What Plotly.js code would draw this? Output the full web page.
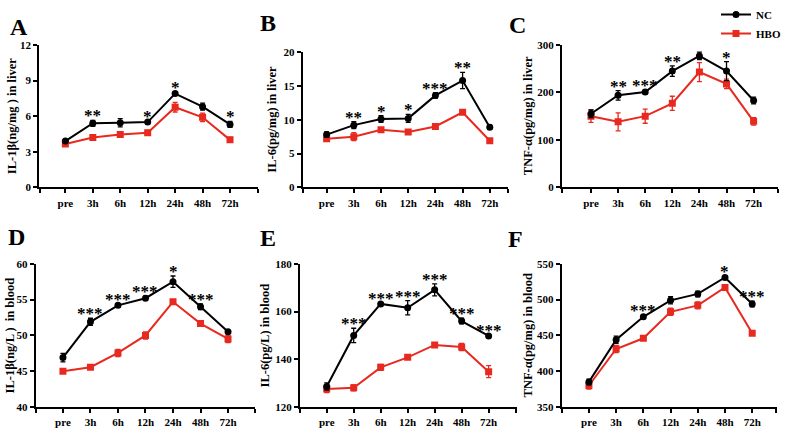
<!DOCTYPE html>
<html>
<head>
<meta charset="utf-8">
<script src="https://cdn.plot.ly/plotly-3.0.1.min.js"></script>
<style>html,body{margin:0;padding:0;background:#fff;}#chart{width:790px;height:431px;}</style>
</head>
<body>
<div id="chart"></div>
<script>
// ---- data ----
var categories = ['pre','3h','6h','12h','24h','48h','72h'];

var ncA = [3.9, 5.4, 5.45, 5.5, 7.9, 6.8, 5.3];
var ncAerr = [0.12, 0.25, 0.35, 0.1, 0.15, 0.3, 0.25];
var hboA = [3.65, 4.2, 4.45, 4.6, 6.75, 5.9, 4.0];
var hboAerr = [0.1, 0.2, 0.2, 0.2, 0.4, 0.35, 0.2];
var starsA = ['', '**', '', '*', '*', '', '*'];

var ncB = [7.8, 9.2, 10.1, 10.2, 13.6, 15.8, 8.9];
var ncBerr = [0.4, 0.5, 0.5, 0.6, 0.4, 1.2, 0.3];
var hboB = [7.2, 7.5, 8.5, 8.2, 9.0, 11.1, 6.9];
var hboBerr = [0.3, 0.6, 0.3, 0.3, 0.2, 0.3, 0.2];
var starsB = ['', '**', '*', '*', '***', '**', ''];

var ncC = [155, 194, 201, 245, 277, 245, 183];
var ncCerr = [8, 10, 4, 11, 8, 20, 7];
var hboC = [150, 138, 150, 177, 243, 218, 139];
var hboCerr = [13, 19, 15, 15, 20, 10, 8];
var starsC = ['', '**', '***', '**', '', '*', ''];

var ncD = [46.9, 51.9, 54.2, 55.2, 57.5, 54.0, 50.5];
var ncDerr = [0.6, 0.5, 0.2, 0.3, 0.8, 0.4, 0.2];
var hboD = [45.0, 45.55, 47.55, 50.0, 54.7, 51.65, 49.5];
var hboDerr = [0.2, 0.2, 0.5, 0.5, 0.3, 0.3, 0.5];
var starsD = ['', '***', '***', '***', '*', '***', ''];

var ncE = [128.6, 150, 163.2, 161.6, 169.1, 156, 149.8];
var ncEerr = [1.5, 3, 0.5, 3, 2.5, 1.2, 0.5];
var hboE = [127.5, 128, 136.6, 140.8, 146, 145.1, 134.8];
var hboEerr = [1.5, 1.2, 1.2, 0.7, 0.5, 1.5, 2.5];
var starsE = ['', '***', '***', '***', '***', '***', '***'];

var ncF = [385, 444, 476, 499, 508, 531, 494];
var ncFerr = [4, 5, 2, 5, 4, 2, 4];
var hboF = [380, 431, 446, 483, 492, 517, 453];
var hboFerr = [5, 5, 2, 5, 5, 4, 2];
var starsF = ['', '', '***', '', '', '*', '***'];

var yTitles = ['IL-1β(ng/mg ) in liver', 'IL-6(pg/mg) in liver', 'TNF-α(pg/mg) in liver',
               'IL-1β(ng/L )  in blood', 'IL-6(pg/L) in blood', 'TNF-α(pg/mg) in blood'];
var panelLetters = ['A','B','C','D','E','F'];
var yRanges = [[0,12],[0,20],[0,300],[40,60],[120,180],[350,550]];
var yDticks = [3, 5, 100, 5, 20, 50];
var seriesNames = ['NC', 'HBO'];

// ---- layout geometry (pixels) ----
var W = 790, H = 431;
var geo = [
  {x0:39.3, x1:258, y0:37.7, y1:182.7, xr:[-0.95, 7.02], tx:12, lx:8, ly:4},
  {x0:302.7, x1:508, y0:45, y1:182.7, xr:[-0.88, 6.67], tx:272, lx:258, ly:0},
  {x0:562, x1:778, y0:37.7, y1:182.7, xr:[-1.07, 6.9], tx:528, lx:507, ly:2},
  {x0:35.7, x1:255, y0:260.7, y1:406.5, xr:[-0.99, 6.98], tx:10, lx:6, ly:218},
  {x0:300, x1:516.7, y0:260.7, y1:406.5, xr:[-0.99, 7.04], tx:265, lx:258, ly:219},
  {x0:561.7, x1:776.7, y0:260.7, y1:406.5, xr:[-1.0, 6.9], tx:528, lx:506, ly:220}
];

var panels = [
  [ncA, ncAerr, hboA, hboAerr, starsA],
  [ncB, ncBerr, hboB, hboBerr, starsB],
  [ncC, ncCerr, hboC, hboCerr, starsC],
  [ncD, ncDerr, hboD, hboDerr, starsD],
  [ncE, ncEerr, hboE, hboEerr, starsE],
  [ncF, ncFerr, hboF, hboFerr, starsF]
];

var RED = '#e8291f', BLACK = '#000000';
var FONT = 'Liberation Serif, Times New Roman, serif';
var xIdx = categories.map(function(c, i){ return i; });

var traces = [], annotations = [];
var layout = {
  width: W, height: H,
  margin: {l:0, r:0, t:0, b:0},
  paper_bgcolor: '#fff', plot_bgcolor: 'rgba(0,0,0,0)',
  showlegend: true,
  legend: {x: 716/W, y: 1.02, xanchor: 'left', yanchor: 'top',
           font: {family: FONT, size: 11, color: '#000', weight: 'bold'},
           bgcolor: 'rgba(0,0,0,0)', tracegroupgap: 0},
  font: {family: FONT, color: '#000'}
};

panels.forEach(function(p, k){
  var g = geo[k];
  var xa = k === 0 ? 'x' : 'x' + (k+1);
  var ya = k === 0 ? 'y' : 'y' + (k+1);
  var xkey = k === 0 ? 'xaxis' : 'xaxis' + (k+1);
  var ykey = k === 0 ? 'yaxis' : 'yaxis' + (k+1);

  // HBO drawn first, NC on top
  traces.push({
    x: xIdx, y: p[2], xaxis: xa, yaxis: ya, name: seriesNames[1],
    type: 'scatter', mode: 'lines+markers', showlegend: k === 0, legendrank: 2,
    line: {color: RED, width: 2},
    marker: {symbol: 'square', size: 7, color: RED},
    error_y: {type: 'data', array: p[3], visible: true, color: RED, thickness: 1.3, width: 2.5}
  });
  traces.push({
    x: xIdx, y: p[0], xaxis: xa, yaxis: ya, name: seriesNames[0],
    type: 'scatter', mode: 'lines+markers', showlegend: k === 0, legendrank: 1,
    line: {color: BLACK, width: 2},
    marker: {symbol: 'circle', size: 7, color: BLACK},
    error_y: {type: 'data', array: p[1], visible: true, color: BLACK, thickness: 1.3, width: 2.5}
  });

  var tv = [g.xr[0] + 0.01].concat(xIdx).concat([g.xr[1] - 0.01]);
  var tt = [''].concat(categories).concat(['']);
  layout[xkey] = {
    domain: [g.x0 / W, g.x1 / W], range: g.xr, anchor: ya,
    showgrid: false, zeroline: false, showline: true, linecolor: '#000', linewidth: 2,
    ticks: 'outside', ticklen: 4, tickwidth: 2, tickcolor: '#000',
    tickmode: 'array', tickvals: tv, ticktext: tt,
    tickfont: {family: FONT, size: 11, color: '#000', weight: 'bold'},
    fixedrange: true
  };
  layout[ykey] = {
    domain: [1 - g.y1 / H, 1 - g.y0 / H], range: yRanges[k], anchor: xa,
    showgrid: false, zeroline: false, showline: true, linecolor: '#000', linewidth: 2,
    ticks: 'outside', ticklen: 4, tickwidth: 2, tickcolor: '#000',
    tickmode: 'linear', tick0: yRanges[k][0], dtick: yDticks[k],
    tickfont: {family: FONT, size: 11, color: '#000', weight: 'bold'},
    fixedrange: true
  };

  // significance stars above NC error bars
  p[4].forEach(function(s, i){
    if (!s) return;
    annotations.push({
      x: xIdx[i], y: p[0][i] + p[1][i], xref: xa, yref: ya,
      text: s, showarrow: false, xanchor: 'center', yanchor: 'bottom', yshift: -7,
      font: {family: FONT, size: 17, color: '#000', weight: 'bold'}
    });
  });

  // y axis title
  annotations.push({
    x: g.tx / W, y: 1 - ((g.y0 + g.y1) / 2) / H, xref: 'paper', yref: 'paper',
    text: yTitles[k], textangle: -90, showarrow: false, xanchor: 'center', yanchor: 'middle',
    font: {family: FONT, size: 12.5, color: '#000', weight: 'bold'}
  });
  // panel letter
  annotations.push({
    x: g.lx / W, y: 1 - g.ly / H, xref: 'paper', yref: 'paper',
    text: panelLetters[k], showarrow: false, xanchor: 'left', yanchor: 'top',
    font: {family: FONT, size: 24, color: '#000', weight: 'bold'}
  });
});

layout.annotations = annotations;
Plotly.newPlot('chart', traces, layout, {displayModeBar: false, staticPlot: true});
</script>
</body>
</html>
